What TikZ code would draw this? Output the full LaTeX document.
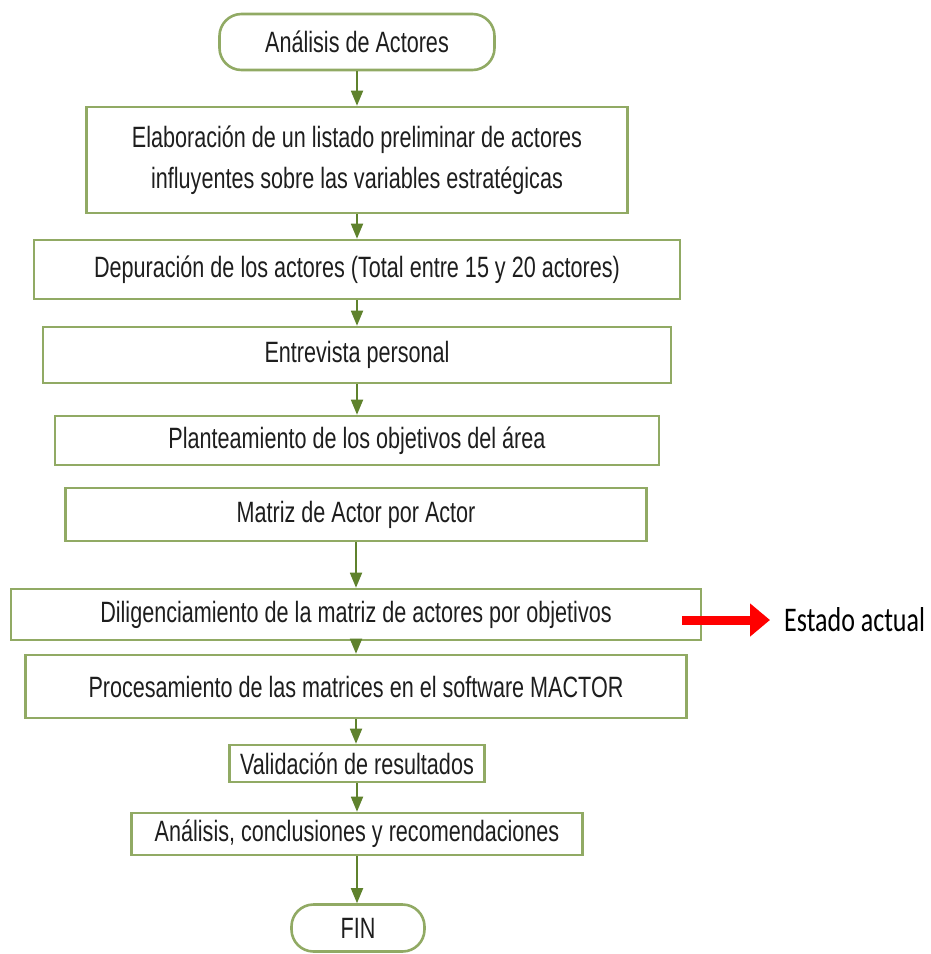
\documentclass[tikz,border=0pt]{standalone}
\usepackage{fontspec}
\usepackage{graphicx}
\setmainfont{Liberation Sans}
\newfontfamily\calib{Carlito}
\usetikzlibrary{arrows.meta}
\definecolor{boxgreen}{RGB}{145,170,100}
\definecolor{arrgreen}{RGB}{95,130,45}
\definecolor{txt}{RGB}{30,30,30}
\newcommand{\vs}[1]{\scalebox{1}[1.36]{#1}}
\begin{document}
\begin{tikzpicture}[x=1pt,y=-1pt,
  box/.style={draw=boxgreen, line width=2.6pt, fill=white, inner sep=0pt,
    text=txt, font=\fontsize{21.6}{30.2}\selectfont},
  term/.style={box, rounded corners=22pt},
  flow/.style={draw=arrgreen, line width=1.8pt, -{Triangle[width=12pt,length=15pt]}},
]
\useasboundingbox (0,0) rectangle (930,954);
\fill[white] (0,0) rectangle (930,954);

\node[term, minimum width=275pt, minimum height=56pt] (t1) at (357,42) {\vs{Análisis de Actores}};
\node[box, minimum width=541pt, minimum height=106pt] (b1) at (357,160)
  {\vs{\begin{tabular}{@{}c@{}}Elaboración de un listado preliminar de actores\\influyentes sobre las variables estratégicas\end{tabular}}};
\node[box, minimum width=646pt, minimum height=59pt] (b2) at (357,269.5)
  {\vs{Depuración de los actores (Total entre 15 y 20 actores)}};
\node[box, minimum width=628pt, minimum height=56pt] (b3) at (357,355)
  {\vs{Entrevista personal}};
\node[box, minimum width=604pt, minimum height=49pt] (b4) at (357,440.5)
  {\vs{Planteamiento de los objetivos del área}};
\node[box, minimum width=581pt, minimum height=53pt] (b5) at (356,514.5)
  {\vs{Matriz de Actor por Actor}};
\node[box, minimum width=690pt, minimum height=51pt] (b6) at (356,614.5)
  {\raisebox{2pt}{\vs{Diligenciamiento de la matriz de actores por objetivos}}};
\node[box, minimum width=661pt, minimum height=63pt] (b7) at (356,686.5)
  {\vs{Procesamiento de las matrices en el software MACTOR}};
\node[box, minimum width=255pt, minimum height=37pt] (b8) at (357,763.5)
  {\vs{Validación de resultados}};
\node[box, minimum width=451pt, minimum height=42pt] (b9) at (357,834)
  {\vs{Análisis, conclusiones y recomendaciones}};
\node[term, minimum width=133pt, minimum height=47pt] (t2) at (358,928) {\vs{FIN}};

\draw[flow] (t1.south) -- (t1.south |- b1.north);
\draw[flow] (b1.south) -- (b1.south |- b2.north);
\draw[flow] (b2.south) -- (b2.south |- b3.north);
\draw[flow] (b3.south) -- (b3.south |- b4.north);
\draw[flow] (b5.south) -- (b5.south |- b6.north);
\draw[flow] (b6.south) -- (b6.south |- b7.north);
\draw[flow] (b7.south) -- (b7.south |- b8.north);
\draw[flow] (b8.south) -- (b8.south |- b9.north);
\draw[flow] (b9.south) -- (b9.south |- t2.north);

\node[anchor=west, inner sep=0pt, font=\calib\fontsize{26}{30}\selectfont, text=black] (est) at (784,620) {\scalebox{1}[1.33]{Estado actual}};
\coordinate (rs) at (682,620);
\coordinate (re) at (770,620);
\draw[draw=red, line width=9pt, -{Triangle[width=32pt,length=20pt]}] (rs) -- (re);
\end{tikzpicture}
\end{document}
